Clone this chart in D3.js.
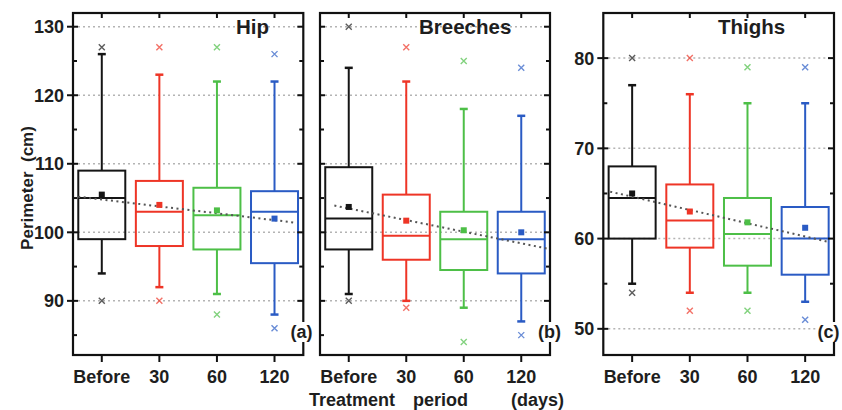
<!DOCTYPE html>
<html><head><meta charset="utf-8">
<script src="https://cdn.jsdelivr.net/npm/d3@7"></script>
<style>
body{margin:0;background:#fff}
svg{display:block}
text{font-family:"Liberation Sans",Arial,sans-serif;font-weight:bold;fill:#1e1e1e}
</style>
</head><body>
<svg id="chart" width="842" height="410"></svg>
<script>
// Treatment periods (x categories) and one colour per period
const categories = ["Before", "30", "60", "120"];
const periodColors = ["#151515", "#ee3526", "#4dbf47", "#2a5bc4"];

// Hip perimeter (cm)
const hipWhiskerHigh = [126, 123, 122, 122];
const hipQ3          = [109, 107.5, 106.5, 106];
const hipMedian      = [105, 103, 102.5, 103];
const hipQ1          = [99, 98, 97.5, 95.5];
const hipWhiskerLow  = [94, 92, 91, 88];
const hipMean        = [105.5, 104, 103.2, 102];
const hipOutHigh     = [127, 127, 127, 126];
const hipOutLow      = [90, 90, 88, 86];
const hipTrend       = [[0.59, 105.2], [4.37, 101.4]];

// Breeches perimeter (cm)
const breechesWhiskerHigh = [124, 122, 118, 117];
const breechesQ3          = [109.5, 105.5, 103, 103];
const breechesMedian      = [102, 99.5, 99, 99];
const breechesQ1          = [97.5, 96, 94.5, 94];
const breechesWhiskerLow  = [91, 90, 89, 87];
const breechesMean        = [103.7, 101.7, 100.3, 100];
const breechesOutHigh     = [130, 127, 125, 124];
const breechesOutLow      = [90, 89, 84, 85];
const breechesTrend       = [[0.75, 103.9], [4.47, 97.6]];

// Thighs perimeter (cm)
const thighsWhiskerHigh = [77, 76, 75, 75];
const thighsQ3          = [68, 66, 64.5, 63.5];
const thighsMedian      = [64.5, 62, 60.5, 60];
const thighsQ1          = [60, 59, 57, 56];
const thighsWhiskerLow  = [55, 54, 54, 53];
const thighsMean        = [65, 63, 61.8, 61.2];
const thighsOutHigh     = [80, 80, 79, 79];
const thighsOutLow      = [54, 52, 52, 51];
const thighsTrend       = [[0.62, 65.2], [4.43, 59.6]];

// Axis ticks
const hipBreechesMajorTicks = [90, 100, 110, 120, 130];
const hipBreechesMinorTicks = [85, 95, 105, 115, 125];
const thighsMajorTicks = [50, 60, 70, 80];
const thighsMinorTicks = [55, 65, 75];

function rows(wh, q3, med, q1, wl, mean, oh, ol) {
  return categories.map((c, i) => ({
    cat: c, idx: i + 1, color: periodColors[i],
    wh: wh[i], q3: q3[i], med: med[i], q1: q1[i], wl: wl[i],
    mean: mean[i], out: [oh[i], ol[i]]
  }));
}

const panels = [
  { title: "Hip", tag: "(a)", tagX: 301.5, x0: 73, x1: 303.3, yDomain: [82.1, 132],
    major: hipBreechesMajorTicks, minor: hipBreechesMinorTicks, labels: true, titleX: 236,
    trend: hipTrend,
    data: rows(hipWhiskerHigh, hipQ3, hipMedian, hipQ1, hipWhiskerLow, hipMean, hipOutHigh, hipOutLow) },
  { title: "Breeches", tag: "(b)", tagX: 549.5, x0: 320, x1: 550, yDomain: [82.1, 132],
    major: hipBreechesMajorTicks, minor: hipBreechesMinorTicks, labels: false, titleX: 419,
    trend: breechesTrend,
    data: rows(breechesWhiskerHigh, breechesQ3, breechesMedian, breechesQ1, breechesWhiskerLow, breechesMean, breechesOutHigh, breechesOutLow) },
  { title: "Thighs", tag: "(c)", tagX: 828.5, x0: 603.3, x1: 834, yDomain: [47.1, 85],
    major: thighsMajorTicks, minor: thighsMinorTicks, labels: true, titleX: 718,
    trend: thighsTrend,
    data: rows(thighsWhiskerHigh, thighsQ3, thighsMedian, thighsQ1, thighsWhiskerLow, thighsMean, thighsOutHigh, thighsOutLow) }
];

const svg = d3.select("#chart");
const plotTop = 13, plotBottom = 355;
const boxW = 47, capW = 8, markHalf = 3;

panels.forEach(p => {
  const x = d3.scaleLinear().domain([0.5, 4.5]).range([p.x0, p.x1]);
  const y = d3.scaleLinear().domain(p.yDomain).range([plotBottom, plotTop]);
  const g = svg.append("g");

  // dotted grid at major ticks
  g.selectAll("line.grid").data(p.major).join("line")
    .attr("x1", p.x0).attr("x2", p.x1)
    .attr("y1", d => y(d)).attr("y2", d => y(d))
    .attr("stroke", "#b4b4b4").attr("stroke-width", 1.5)
    .attr("stroke-dasharray", "2,3");

  const box = g.selectAll("g.box").data(p.data).join("g")
    .attr("stroke", d => d.color).attr("fill", "none");

  // whiskers
  box.append("line")
    .attr("x1", d => x(d.idx)).attr("x2", d => x(d.idx))
    .attr("y1", d => y(d.q3)).attr("y2", d => y(d.wh)).attr("stroke-width", 2);
  box.append("line")
    .attr("x1", d => x(d.idx)).attr("x2", d => x(d.idx))
    .attr("y1", d => y(d.q1)).attr("y2", d => y(d.wl)).attr("stroke-width", 2);
  // whisker caps
  box.append("line")
    .attr("x1", d => x(d.idx) - capW / 2).attr("x2", d => x(d.idx) + capW / 2)
    .attr("y1", d => y(d.wh)).attr("y2", d => y(d.wh)).attr("stroke-width", 2.5);
  box.append("line")
    .attr("x1", d => x(d.idx) - capW / 2).attr("x2", d => x(d.idx) + capW / 2)
    .attr("y1", d => y(d.wl)).attr("y2", d => y(d.wl)).attr("stroke-width", 2.5);
  // box and median
  box.append("rect")
    .attr("x", d => x(d.idx) - boxW / 2).attr("width", boxW)
    .attr("y", d => y(d.q3)).attr("height", d => y(d.q1) - y(d.q3))
    .attr("stroke-width", 2);
  box.append("line")
    .attr("x1", d => x(d.idx) - boxW / 2).attr("x2", d => x(d.idx) + boxW / 2)
    .attr("y1", d => y(d.med)).attr("y2", d => y(d.med)).attr("stroke-width", 2);

  // outliers (x marks)
  box.each(function (d) {
    const s = d3.select(this);
    d.out.forEach(v => {
      const cx = x(d.idx), cy = y(v);
      s.append("path")
        .attr("d", `M${cx - markHalf},${cy - markHalf}L${cx + markHalf},${cy + markHalf}M${cx - markHalf},${cy + markHalf}L${cx + markHalf},${cy - markHalf}`)
        .attr("stroke-width", 1.4).attr("stroke-opacity", 0.7);
    });
  });

  // linear trend through the period means
  g.append("line")
    .attr("x1", x(p.trend[0][0])).attr("y1", y(p.trend[0][1]))
    .attr("x2", x(p.trend[1][0])).attr("y2", y(p.trend[1][1]))
    .attr("stroke", "#555").attr("stroke-width", 2).attr("stroke-dasharray", "2,3.5");

  // mean squares
  g.selectAll("rect.mean").data(p.data).join("rect")
    .attr("x", d => x(d.idx) - 3).attr("y", d => y(d.mean) - 3)
    .attr("width", 6).attr("height", 6).attr("fill", d => d.color);

  // frame
  g.append("rect").attr("x", p.x0).attr("y", plotTop)
    .attr("width", p.x1 - p.x0).attr("height", plotBottom - plotTop)
    .attr("fill", "none").attr("stroke", "#111").attr("stroke-width", 2.2);

  // y ticks (left and right)
  const tk = g.append("g").attr("stroke", "#111").attr("stroke-width", 2);
  p.major.forEach(v => {
    tk.append("line").attr("x1", p.x0 - (p.labels ? 6 : 0)).attr("x2", p.x0 + 5).attr("y1", y(v)).attr("y2", y(v));
    tk.append("line").attr("x1", p.x1 - 6).attr("x2", p.x1).attr("y1", y(v)).attr("y2", y(v));
  });
  p.minor.forEach(v => {
    tk.append("line").attr("x1", p.x0).attr("x2", p.x0 + 4).attr("y1", y(v)).attr("y2", y(v));
    tk.append("line").attr("x1", p.x1 - 4).attr("x2", p.x1).attr("y1", y(v)).attr("y2", y(v));
  });
  // x ticks (top inward, bottom outward)
  p.data.forEach(d => {
    tk.append("line").attr("x1", x(d.idx)).attr("x2", x(d.idx)).attr("y1", plotTop).attr("y2", plotTop + 5);
    tk.append("line").attr("x1", x(d.idx)).attr("x2", x(d.idx)).attr("y1", plotBottom).attr("y2", plotBottom + 7);
  });

  // tick labels
  if (p.labels) {
    g.selectAll("text.yl").data(p.major).join("text")
      .attr("x", p.x0 - 9).attr("y", d => y(d) + 6.5)
      .attr("text-anchor", "end").attr("font-size", 18)
      .text(d => d);
  }
  g.selectAll("text.xl").data(p.data).join("text")
    .attr("x", d => x(d.idx)).attr("y", 383)
    .attr("text-anchor", "middle").attr("font-size", 18)
    .text(d => d.cat);

  // panel title
  g.append("text").attr("x", p.titleX).attr("y", 34)
    .attr("font-size", 20.5).text(p.title);

  // panel tag sitting on the right frame
  const tag = g.append("text").attr("x", p.tagX).attr("y", 338)
    .attr("text-anchor", "middle").attr("font-size", 18).text(p.tag);
  const bb = tag.node().getBBox();
  g.insert("rect", () => tag.node())
    .attr("x", bb.x - 1).attr("y", bb.y).attr("width", bb.width + 2).attr("height", bb.height)
    .attr("fill", "#fff");
});

// axis titles
svg.append("text")
  .attr("transform", "translate(33,188) rotate(-90)")
  .attr("text-anchor", "middle").attr("font-size", 17)
  .attr("xml:space", "preserve")
  .text("Perimeter  (cm)");
svg.append("text").attr("x", 309).attr("y", 406).attr("font-size", 18).text("Treatment");
svg.append("text").attr("x", 413).attr("y", 406).attr("font-size", 18).text("period");
svg.append("text").attr("x", 511).attr("y", 406).attr("font-size", 18).text("(days)");
</script>
</body></html>
